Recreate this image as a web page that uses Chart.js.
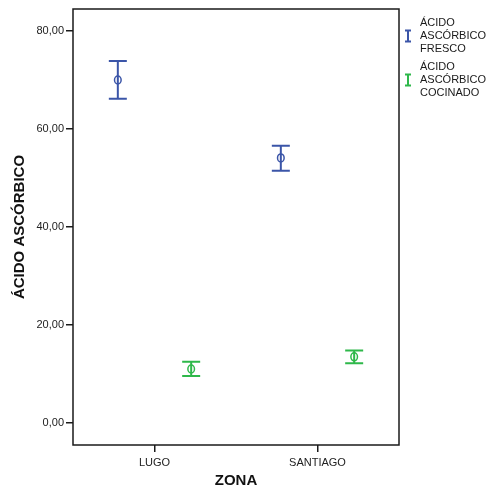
<!DOCTYPE html>
<html>
<head>
<meta charset="utf-8">
<script src="https://cdn.jsdelivr.net/npm/chart.js@4.4.1/dist/chart.umd.min.js"></script>
<style>body{margin:0;background:#fff}</style>
</head>
<body>
<canvas id="errChart" width="488" height="490"></canvas>
<script>
// values (mean and interval ends)
const zonas = ['LUGO', 'SANTIAGO'];
const frescoMedia = [70.0, 54.1];
const frescoInf = [66.2, 51.5];
const frescoSup = [73.9, 56.6];
const cocinadoMedia = [11.0, 13.5];
const cocinadoInf = [9.6, 12.2];
const cocinadoSup = [12.5, 14.8];
const yTicks = [0, 20, 40, 60, 80];

const blue = '#3b55a8';
const green = '#2eb84a';
const fontFam = "'Liberation Sans', Arial, sans-serif";

// whisker caps + mean circle
const errorBars = {
  id: 'errorBars',
  afterDatasetsDraw(chart) {
    const ctx = chart.ctx;
    const y = chart.scales.y;
    chart.data.datasets.forEach((ds, i) => {
      const meta = chart.getDatasetMeta(i);
      meta.data.forEach((bar, j) => {
        const x = bar.x;
        const yLo = y.getPixelForValue(ds.data[j][0]);
        const yHi = y.getPixelForValue(ds.data[j][1]);
        const yM = y.getPixelForValue(ds.media[j]);
        ctx.save();
        ctx.strokeStyle = ds.backgroundColor;
        ctx.lineWidth = 2;
        ctx.beginPath();
        ctx.moveTo(x - 9, yHi); ctx.lineTo(x + 9, yHi);
        ctx.moveTo(x - 9, yLo); ctx.lineTo(x + 9, yLo);
        ctx.stroke();
        ctx.lineWidth = 1.5;
        ctx.beginPath();
        ctx.ellipse(x, yM, 3.3, 4, 0, 0, Math.PI * 2);
        ctx.stroke();
        ctx.restore();
      });
    });
  },
  afterDraw(chart) {
    const ctx = chart.ctx;
    const a = chart.chartArea;
    ctx.save();
    ctx.strokeStyle = '#1a1a1a';
    ctx.lineWidth = 1.5;
    ctx.strokeRect(a.left, a.top, a.right - a.left, a.bottom - a.top);
    // legend
    ctx.font = '11px ' + fontFam;
    ctx.textBaseline = 'middle';
    ctx.fillStyle = '#1a1a1a';
    chart.data.datasets.forEach((ds, i) => {
      const top = 23 + i * 44;
      ds.label.split('\n').forEach((line, k) => {
        ctx.fillText(line, 420, top + k * 13);
      });
      const cy = top + 13;
      ctx.strokeStyle = ds.backgroundColor;
      ctx.lineWidth = 2;
      ctx.beginPath();
      ctx.moveTo(408, cy - 5.5); ctx.lineTo(408, cy + 5.5);
      ctx.moveTo(405, cy - 5.5); ctx.lineTo(411, cy - 5.5);
      ctx.moveTo(405, cy + 5.5); ctx.lineTo(411, cy + 5.5);
      ctx.stroke();
    });
    ctx.restore();
  }
};

new Chart('errChart', {
  type: 'bar',
  data: {
    labels: zonas,
    datasets: [
      {
        label: 'ÁCIDO\nASCÓRBICO\nFRESCO',
        data: zonas.map((z, i) => [frescoInf[i], frescoSup[i]]),
        media: frescoMedia,
        backgroundColor: blue,
        maxBarThickness: 2,
        categoryPercentage: 0.9
      },
      {
        label: 'ÁCIDO\nASCÓRBICO\nCOCINADO',
        data: zonas.map((z, i) => [cocinadoInf[i], cocinadoSup[i]]),
        media: cocinadoMedia,
        backgroundColor: green,
        maxBarThickness: 2,
        categoryPercentage: 0.9
      }
    ]
  },
  options: {
    responsive: false,
    animation: false,
    events: [],
    layout: { padding: { top: 9, right: 89, left: 0, bottom: 0 } },
    plugins: { legend: { display: false }, tooltip: { enabled: false } },
    scales: {
      x: {
        grid: { offset: false, drawOnChartArea: false, tickLength: 7, tickColor: '#1a1a1a', lineWidth: 1.5 },
        border: { display: false },
        ticks: { color: '#222', font: { family: fontFam, size: 11 }, padding: 4, maxRotation: 0 },
        title: { display: true, text: 'ZONA', color: '#111', font: { family: fontFam, size: 15, weight: 'bold' }, padding: { top: 0, bottom: 0 } },
        afterFit: s => { s.height = 45; }
      },
      y: {
        min: -4.5,
        max: 84.5,
        grid: { drawOnChartArea: false, tickLength: 7, tickColor: '#1a1a1a', lineWidth: 1.5 },
        border: { display: false },
        afterBuildTicks: s => { s.ticks = yTicks.map(v => ({ value: v })); },
        ticks: {
          color: '#222',
          font: { family: fontFam, size: 11 },
          padding: 2,
          callback: v => v.toFixed(2).replace('.', ',')
        },
        title: { display: true, text: 'ÁCIDO ASCÓRBICO', color: '#111', font: { family: fontFam, size: 15, weight: 'bold' }, padding: { top: 11, bottom: 0 } },
        afterFit: s => { s.width = 73; }
      }
    }
  },
  plugins: [errorBars]
});
</script>
</body>
</html>
